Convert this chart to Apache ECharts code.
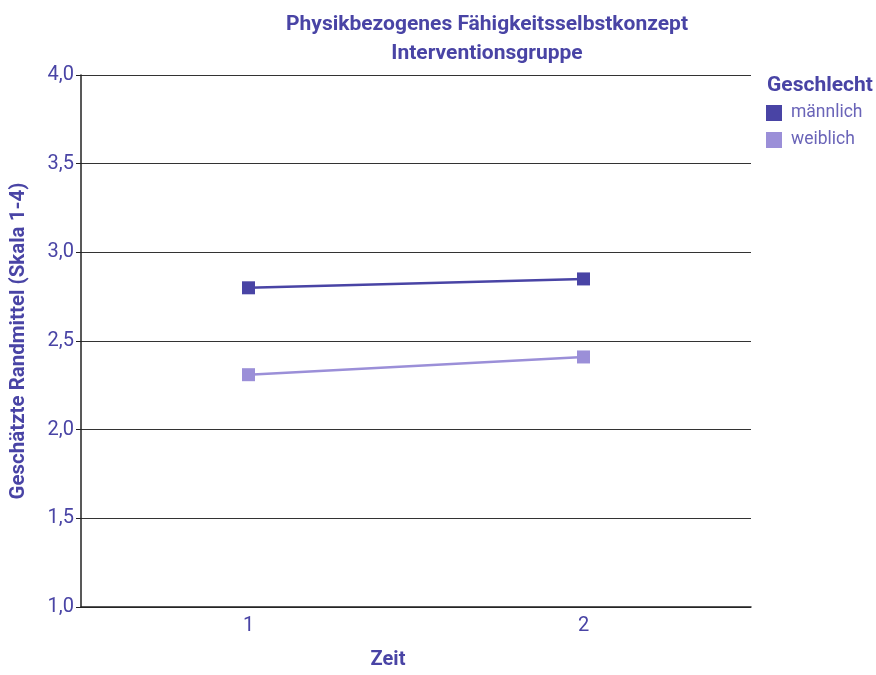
<!DOCTYPE html>
<html>
<head>
<meta charset="utf-8">
<script src="https://cdn.jsdelivr.net/npm/echarts@6/dist/echarts.min.js"></script>
<style>
  html, body { margin: 0; padding: 0; background: #fff; }
</style>
</head>
<body>
<div id="chart" style="width: 876px;height:675px;"></div>
<script>
// Daten
const zeit = ['1', '2']
const maennlich = [2.80, 2.85]
const weiblich = [2.31, 2.41]

const dunkel = '#4944a5'
const hell = '#9b8fd8'
const textFarbe = '#4944a5'
const schrift = 'Roboto'

const chart = echarts.init(document.getElementById('chart'))

const option = {
  backgroundColor: '#fff',
  title: [
    {
      text: 'Physikbezogenes Fähigkeitsselbstkonzept\nInterventionsgruppe',
      left: 482,
      top: 5,
      textAlign: 'center',
      textStyle: { color: textFarbe, fontFamily: schrift, fontSize: 21, fontWeight: 'bold', lineHeight: 29 }
    },
    {
      text: 'Geschlecht',
      left: 762,
      top: 70,
      textStyle: { color: textFarbe, fontFamily: schrift, fontSize: 21, fontWeight: 'bold' }
    }
  ],
  legend: {
    orient: 'vertical',
    left: 761,
    top: 99,
    icon: 'rect',
    itemWidth: 16,
    itemHeight: 16,
    itemGap: 9,
    textStyle: { color: '#6a64b8', fontFamily: schrift, fontSize: 17.5, padding: [0, 0, 0, 4] },
    data: ['männlich', 'weiblich']
  },
  grid: { left: 81, right: 125, top: 75, bottom: 66 },
  xAxis: {
    type: 'category',
    data: zeit,
    name: 'Zeit',
    nameLocation: 'middle',
    nameGap: 43,
    nameTextStyle: { color: textFarbe, fontFamily: schrift, fontSize: 20, fontWeight: 'bold', padding: [0, 56, 0, 0] },
    axisLine: { lineStyle: { color: '#222', width: 1.5 } },
    axisTick: { show: false },
    axisLabel: { color: textFarbe, fontFamily: schrift, fontSize: 20, margin: 9 }
  },
  yAxis: {
    type: 'value',
    min: 1,
    max: 4,
    interval: 0.5,
    name: 'Geschätzte Randmittel (Skala 1-4)',
    nameLocation: 'middle',
    nameGap: 52,
    nameTextStyle: { color: textFarbe, fontFamily: schrift, fontSize: 20.5, fontWeight: 'bold' },
    axisLine: { show: true, lineStyle: { color: '#222', width: 1.5 } },
    axisTick: { show: true, length: 5, lineStyle: { color: '#222' } },
    axisLabel: {
      color: textFarbe, fontFamily: schrift, fontSize: 20, margin: 7,
      formatter: v => v.toFixed(1).replace('.', ',')
    },
    splitLine: { lineStyle: { color: '#333', width: 1 } }
  },
  series: [
    {
      name: 'männlich',
      type: 'line',
      data: maennlich,
      symbol: 'rect',
      symbolSize: 13,
      itemStyle: { color: dunkel },
      lineStyle: { color: dunkel, width: 2.5 }
    },
    {
      name: 'weiblich',
      type: 'line',
      data: weiblich,
      symbol: 'rect',
      symbolSize: 13,
      itemStyle: { color: hell },
      lineStyle: { color: hell, width: 2.5 }
    }
  ]
}

chart.setOption(option)
</script>
</body>
</html>
